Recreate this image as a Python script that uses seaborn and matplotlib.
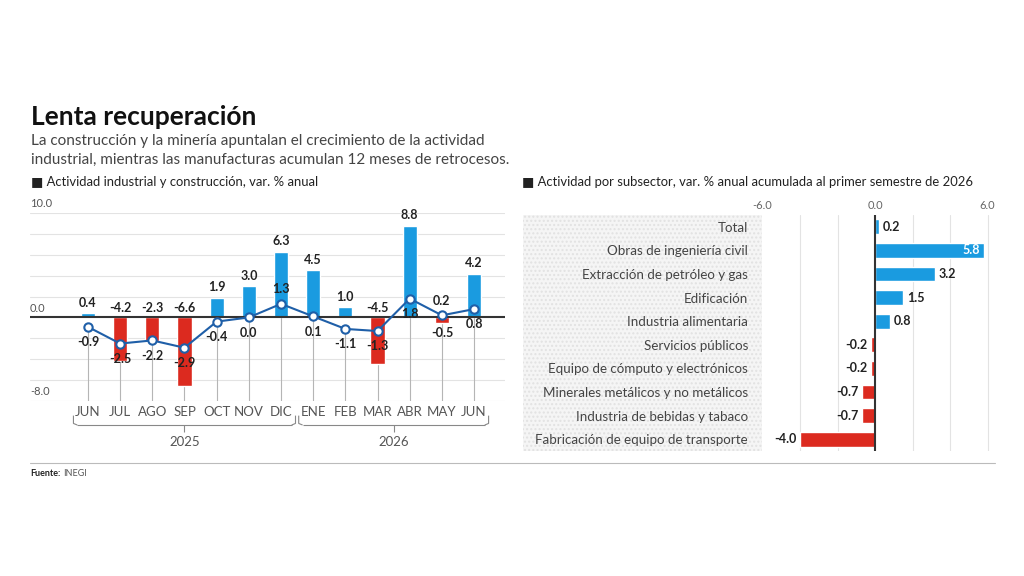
"""
Lenta recuperación: actividad industrial y construcción (izquierda)
y actividad por subsector (derecha).
"""

import numpy as np
import matplotlib
matplotlib.use("Agg")
import matplotlib.pyplot as plt
from matplotlib.lines import Line2D
from matplotlib.patches import Rectangle
import seaborn as sns

# ----------------------------------------------------------------------
# Datos
# ----------------------------------------------------------------------
meses = ["JUN", "JUL", "AGO", "SEP", "OCT", "NOV", "DIC",
         "ENE", "FEB", "MAR", "ABR", "MAY", "JUN"]
anios = ["2025", "2026"]
meses_por_anio = [7, 6]
construccion = [0.4, -4.2, -2.3, -6.6, 1.9, 3.0, 6.3, 4.5, 1.0, -4.5, 8.8, -0.5, 4.2]
industrial = [-0.9, -2.5, -2.2, -2.9, -0.4, 0.0, 1.3, 0.1, -1.1, -1.3, 1.8, 0.2, 0.8]

subsectores = ["Total", "Obras de ingeniería civil", "Extracción de petróleo y gas",
               "Edificación", "Industria alimentaria", "Servicios públicos",
               "Equipo de cómputo y electrónicos", "Minerales metálicos y no metálicos",
               "Industria de bebidas y tabaco", "Fabricación de equipo de transporte"]
var_subsector = [0.2, 5.8, 3.2, 1.5, 0.8, -0.2, -0.2, -0.7, -0.7, -4.0]

# estilo
AZUL = "#1a9be0"
ROJO = "#dc2a1f"
LINEA = "#1f5fa8"
GRIS_TXT = "#555555"
GRID = "#e3e3e3"
paleta = {"pos": AZUL, "neg": ROJO}
# etiquetas de la línea que van arriba del punto
arriba_linea = {6, 11}

W, H = 1024, 576


def fx(x):
    return x / W


def fy(y):
    return 1 - y / H


sns.set_theme(style="white")
plt.rcParams["font.family"] = ["Lato", "DejaVu Sans"]

fig = plt.figure(figsize=(W / 100, H / 100), dpi=100)
fig.patch.set_facecolor("white")

# ----------------------------------------------------------------------
# Encabezados
# ----------------------------------------------------------------------
fig.text(fx(31), fy(117), "Lenta recuperación", fontsize=19, fontweight="bold",
         color="#111111", va="center")
fig.text(fx(31), fy(141), "La construcción y la minería apuntalan el crecimiento de la actividad",
         fontsize=11, color="#444444", va="center")
fig.text(fx(31), fy(160), "industrial, mientras las manufacturas acumulan 12 meses de retrocesos.",
         fontsize=11, color="#444444", va="center")
fig.text(fx(31), fy(182), "■ Actividad industrial y construcción, var. % anual",
         fontsize=9.4, color="#222222", va="center")
fig.text(fx(522), fy(182), "■ Actividad por subsector, var. % anual acumulada al primer semestre de 2026",
         fontsize=9.4, color="#222222", va="center")

# ----------------------------------------------------------------------
# Gráfica izquierda
# ----------------------------------------------------------------------
ax = fig.add_axes([fx(30), fy(401), (505 - 30) / W, (401 - 213) / H])
idx = np.arange(len(meses))
signo = ["pos" if v >= 0 else "neg" for v in construccion]

for g in range(-8, 11, 2):
    if g != 0:
        ax.axhline(g, color=GRID, lw=0.8, zorder=0)
for i, v in zip(idx, industrial):
    ax.plot([i, i], [-8, v], color="#b5b5b5", lw=0.8, zorder=1)

sns.barplot(x=idx, y=construccion, hue=signo, palette=paleta, native_scale=True,
            width=0.44, dodge=False, legend=False, saturation=1, ax=ax, zorder=2)
ax.axhline(0, color="#333333", lw=1.5, zorder=3)
sns.lineplot(x=idx, y=industrial, color=LINEA, lw=1.5, marker="o", markersize=6,
             markerfacecolor="white", markeredgecolor=LINEA, markeredgewidth=1.5,
             ax=ax, zorder=4)

ax.set_xlim(-1.8, 12.96)
ax.set_ylim(-8, 10)
ax.set_xticks([])
ax.set_yticks([])
ax.set_xlabel("")
ax.set_ylabel("")
for s in ax.spines.values():
    s.set_visible(False)

for g, t in [(10, "10.0"), (0, "0.0"), (-8, "-8.0")]:
    ax.text(-1.8, g + 0.35, t, fontsize=8, color=GRIS_TXT, ha="left", va="bottom")

etq = dict(fontsize=9, fontweight="bold", color="#222222", ha="center", zorder=6)
for i, v in zip(idx, construccion):
    if v >= 0:
        ax.text(i, v + 0.4, f"{v:.1f}", va="bottom", **etq)
    elif v <= -1:
        ax.text(i, 0.3, f"{v:.1f}", va="bottom", **etq)
    else:
        ax.text(i, v - 0.4, f"{v:.1f}", va="top", **etq)
for i, v in zip(idx, industrial):
    dy = 1.4 if i in arriba_linea else -1.45
    ax.text(i, v + dy, f"{v:.1f}", va="center", **etq)

for i, m in zip(idx, meses):
    ax.text(i, -9.1, m, fontsize=9.5, color="#555555", ha="center", va="center", clip_on=False)

# llaves de los años
inicio = 0
for anio, n in zip(anios, meses_por_anio):
    x0, x1 = inicio - 0.45, inicio + n - 1 + 0.45
    xc = (x0 + x1) / 2
    kw = dict(color="#888888", lw=0.8, clip_on=False, solid_capstyle="butt")
    ax.plot([x0, x0, x0 + 0.12], [-9.4, -10.15, -10.3], **kw)
    ax.plot([x1, x1, x1 - 0.12], [-9.4, -10.15, -10.3], **kw)
    ax.plot([x0 + 0.12, x1 - 0.12], [-10.3, -10.3], **kw)
    ax.plot([xc, xc], [-10.3, -11.0], **kw)
    ax.text(xc, -11.95, anio, fontsize=9.5, color="#555555", ha="center", va="center")
    inicio += n

# ----------------------------------------------------------------------
# Gráfica derecha
# ----------------------------------------------------------------------
fig.patches.append(Rectangle((fx(523), fy(451)), (762 - 523) / W, (451 - 215) / H,
                             transform=fig.transFigure, facecolor="#f5f5f5",
                             edgecolor="#e2e2e2", hatch="....", lw=0, zorder=-1))

ax2 = fig.add_axes([fx(762), fy(451), (995 - 762) / W, (451 - 215) / H])
signo2 = ["pos" if v >= 0 else "neg" for v in var_subsector]
for g in [-4, -2, 2, 4, 6]:
    ax2.axvline(g, color=GRID, lw=0.8, zorder=0)
sns.barplot(x=var_subsector, y=subsectores, hue=signo2, palette=paleta, orient="h",
            width=0.62, dodge=False, legend=False, saturation=1, ax=ax2, zorder=2)
ax2.axvline(0, color="#333333", lw=1.5, zorder=3)

ax2.set_xlim(-6.03, 6.4)
ax2.set_ylim(9.5, -0.5)
ax2.xaxis.tick_top()
ax2.set_xticks([-6, 0, 6], ["-6.0", "0.0", "6.0"])
ax2.tick_params(axis="x", length=0, pad=3, labelsize=8, labelcolor="#666666")
ax2.set_yticks(range(len(subsectores)), subsectores)
ax2.tick_params(axis="y", length=0, pad=10, labelsize=9.6, labelcolor="#444444")
ax2.set_xlabel("")
ax2.set_ylabel("")
for s in ax2.spines.values():
    s.set_visible(False)

etq2 = dict(fontsize=9, fontweight="bold", va="center", zorder=6)
for j, v in enumerate(var_subsector):
    if v >= 5:
        ax2.text(v - 0.2, j, f"{v:.1f}", ha="right", color="white", **etq2)
    elif v >= 0:
        ax2.text(v + 0.2, j, f"{v:.1f}", ha="left", color="#222222", **etq2)
    else:
        ax2.text(v - 0.2, j, f"{v:.1f}", ha="right", color="#222222", **etq2)

# ----------------------------------------------------------------------
# Pie
# ----------------------------------------------------------------------
fig.add_artist(Line2D([fx(30), fx(995)], [fy(463), fy(463)], color="#bbbbbb", lw=0.8))
fig.text(fx(30), fy(474), "Fuente:", fontsize=6.5, fontweight="bold", color="#222222", va="center")
fig.text(fx(63), fy(474), "INEGI", fontsize=6.5, color="#555555", va="center")

fig.savefig("out.png", dpi=100)
